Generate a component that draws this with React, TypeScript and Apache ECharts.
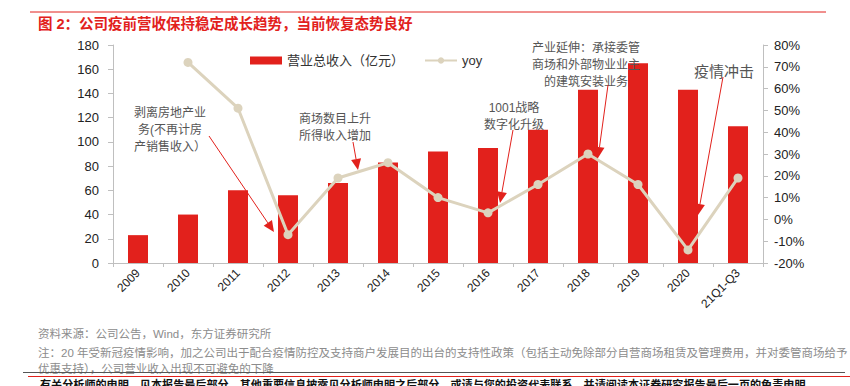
import React, { useEffect, useRef } from "react";
import * as echarts from "echarts";

const categories = ["2009", "2010", "2011", "2012", "2013", "2014", "2015", "2016", "2017", "2018", "2019", "2020", "21Q1-Q3"];
const revenue = [23, 40, 60, 56, 66, 83, 92, 95, 110, 143, 165, 143, 113];
const yoy = [null, 72, 51, -7, 19, 26, 10, 3, 16, 30, 16, -14, 19];
const leftTicks = { min: 0, max: 180, interval: 20 };
const rightTicks = { min: -20, max: 80, interval: 10 };

const titleText = "图 2：公司疫前营收保持稳定成长趋势，当前恢复态势良好";
const sourceText = "资料来源：公司公告，Wind，东方证券研究所";
const noteLine1 = "注：20 年受新冠疫情影响，加之公司出于配合疫情防控及支持商户发展目的出台的支持性政策（包括主动免除部分自营商场租赁及管理费用，并对委管商场给予";
const noteLine2 = "优惠支持），公司营业收入出现不可避免的下降";
const disclaimer = "有关分析师的申明，见本报告最后部分。其他重要信息披露见分析师申明之后部分，或请与您的投资代表联系。并请阅读本证券研究报告最后一页的免责申明。";

const FONT = "'Liberation Sans', Arial, 'Noto Sans CJK SC', sans-serif";
const RED = "#e2211c";
const BEIGE = "#dcd3bd";

type Note = { text: string; x: number; y: number; size: number; from: [number, number]; to: [number, number] };
const notes: Note[] = [
  { text: "剥离房地产业\n务(不再计房\n产销售收入）", x: 170, y: 104, size: 12, from: [209, 136], to: [274, 232] },
  { text: "商场数目上升\n所得收入增加", x: 335, y: 110, size: 12, from: [353, 142], to: [358, 170] },
  { text: "1001战略\n数字化升级", x: 514, y: 99, size: 12, from: [513, 130], to: [500, 203] },
  { text: "产业延伸：承接委管\n商场和外部物业业主\n的建筑安装业务", x: 586, y: 39, size: 12, from: [608, 85], to: [598, 158] },
  { text: "疫情冲击", x: 724, y: 62, size: 15, from: [723, 77], to: [698, 215] },
];

function arrow(n: Note) {
  const [x1, y1] = n.from;
  const [x2, y2] = n.to;
  const dx = x2 - x1, dy = y2 - y1;
  const len = Math.sqrt(dx * dx + dy * dy);
  const ux = dx / len, uy = dy / len;
  const L = 11, W = 5;
  const bx = x2 - ux * L, by = y2 - uy * L;
  return [
    { type: "line", shape: { x1, y1, x2: bx, y2: by }, style: { stroke: RED, lineWidth: 1 }, z: 100 },
    {
      type: "polygon",
      shape: { points: [[x2, y2], [bx - uy * W, by + ux * W], [bx + uy * W, by - ux * W]] },
      style: { fill: RED },
      z: 100,
    },
  ];
}

export default function App() {
  const ref = useRef<HTMLDivElement>(null);
  useEffect(() => {
    if (!ref.current) return;
    const chart = echarts.init(ref.current, null, { renderer: "svg" });
    const graphics: any[] = [
      { type: "line", shape: { x1: 30, y1: 12, x2: 826, y2: 12 }, style: { stroke: RED, lineWidth: 1 } },
      { type: "text", x: 38, y: 24, style: { text: titleText, fill: RED, font: `bold 14.5px ${FONT}`, textVerticalAlign: "middle" } },
      { type: "text", x: 38, y: 334, style: { text: sourceText, fill: "#8c8c8c", font: `11.5px ${FONT}`, textVerticalAlign: "middle" } },
      { type: "text", x: 38, y: 353, style: { text: noteLine1, fill: "#8c8c8c", font: `11.5px ${FONT}`, textVerticalAlign: "middle" } },
      { type: "text", x: 38, y: 369, style: { text: noteLine2, fill: "#8c8c8c", font: `11.5px ${FONT}`, textVerticalAlign: "middle" } },
      { type: "line", shape: { x1: 23, y1: 372.5, x2: 845, y2: 372.5 }, style: { stroke: "#555", lineWidth: 1 } },
      { type: "line", shape: { x1: 28, y1: 376.5, x2: 850, y2: 376.5 }, style: { stroke: RED, lineWidth: 1 } },
      { type: "text", x: 40, y: 385, style: { text: disclaimer, fill: "#111", font: `bold 11.1px ${FONT}`, textVerticalAlign: "middle" } },
    ];
    notes.forEach((n) => {
      graphics.push({
        type: "text",
        x: n.x,
        y: n.y,
        style: { text: n.text, fill: "#555", font: `${n.size}px ${FONT}`, textAlign: "center", lineHeight: n.size === 15 ? 18 : 17 },
        z: 100,
      });
      graphics.push(...arrow(n));
    });
    chart.setOption({
      animation: false,
      textStyle: { fontFamily: FONT },
      grid: { left: 113, right: 87, top: 45, bottom: 123 },
      legend: {
        left: 250,
        top: 54,
        padding: 0,
        itemGap: 20,
        textStyle: { fontSize: 13, color: "#333", fontFamily: FONT },
        data: [
          { name: "营业总收入（亿元）", icon: "rect", itemStyle: { color: RED } },
          { name: "yoy" },
        ],
        itemWidth: 32,
        itemHeight: 8,
      },
      xAxis: {
        type: "category",
        data: categories,
        boundaryGap: true,
        axisLine: { lineStyle: { color: "#bfbfbf" } },
        axisTick: { show: true, interval: 0, length: 4, lineStyle: { color: "#bfbfbf" } },
        axisLabel: { rotate: 45, interval: 0, fontSize: 12, color: "#222", margin: 8, fontFamily: FONT },
      },
      yAxis: [
        {
          type: "value",
          min: leftTicks.min,
          max: leftTicks.max,
          interval: leftTicks.interval,
          splitLine: { show: false },
          axisLine: { show: true, lineStyle: { color: "#bfbfbf" } },
          axisTick: { show: true, length: 5, lineStyle: { color: "#bfbfbf" } },
          axisLabel: { fontSize: 13, color: "#222", margin: 14, fontFamily: FONT },
        },
        {
          type: "value",
          min: rightTicks.min,
          max: rightTicks.max,
          interval: rightTicks.interval,
          splitLine: { show: false },
          axisLine: { show: true, lineStyle: { color: "#bfbfbf" } },
          axisTick: { show: true, length: 5, lineStyle: { color: "#bfbfbf" } },
          axisLabel: { fontSize: 13, color: "#222", margin: 11, formatter: "{value}%", fontFamily: FONT },
        },
      ],
      series: [
        {
          name: "营业总收入（亿元）",
          type: "bar",
          data: revenue,
          barWidth: "40%",
          itemStyle: { color: RED },
        },
        {
          name: "yoy",
          type: "line",
          yAxisIndex: 1,
          data: yoy,
          symbol: "circle",
          symbolSize: 9,
          lineStyle: { color: BEIGE, width: 3 },
          itemStyle: { color: BEIGE },
          connectNulls: false,
        },
      ],
      graphic: graphics,
    });
    return () => chart.dispose();
  }, []);
  return <div ref={ref} style={{ position: "fixed", left: 0, top: 0, width: 850, height: 386, background: "#fff" }} />;
}
